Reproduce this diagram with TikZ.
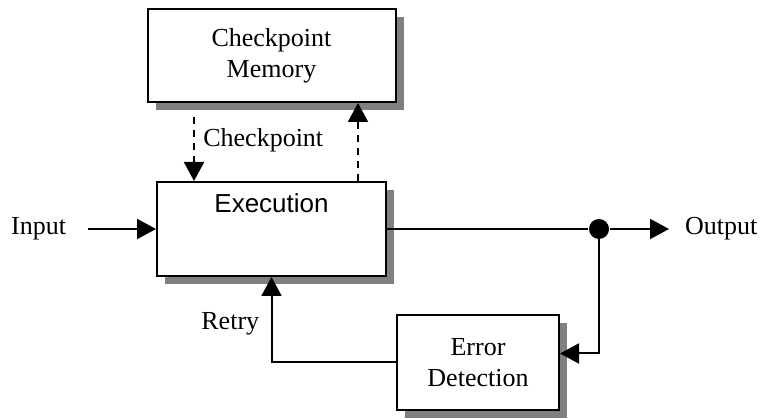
\documentclass[tikz,border=0pt]{standalone}
\usepackage{fontspec}
\setmainfont{Liberation Serif}
\newfontfamily\arialfont{Liberation Sans}
\usetikzlibrary{positioning}
\usetikzlibrary{arrows.meta}
\usetikzlibrary{shadows}

\begin{document}
\begin{tikzpicture}
	[every node/.append style={font=\fontsize{26}{31}\selectfont},
	align=center,
	line width=2pt,
	>={Triangle[length=19pt,width=20pt]},
	block/.style={draw, fill=white, drop shadow={shadow xshift=8pt, shadow yshift=-8pt, fill=black!50, opacity=1}},
	tag/.style={inner xsep=12pt},
	joint/.style={circle, fill, inner sep=0pt, minimum size=20pt},
	link/.style={dash pattern=on 7pt off 6pt}]
	
	\useasboundingbox (0,0) rectangle (760pt,-419pt);
	
	% nodes
	\node [block, minimum width=229pt, minimum height=94pt,
	       label={[anchor=north, yshift=-8pt, font=\arialfont\fontsize{26}{31}\selectfont]north:Execution}]
	       at (271.5pt,-229pt) (exec) {};
	\node [block, minimum width=248pt, minimum height=93pt, above=78pt of exec] (mem) {Checkpoint\\Memory};
	\node [block, minimum width=162pt, minimum height=95pt, below right=37pt and 9pt of exec] (err) {Error\\Detection};
	\node [joint, right=201pt of exec] (dot) {};
	\node [tag, right=62pt of dot] (out) {Output};
	\node [tag, left=77pt of exec] (in) {Input};
	
	% straight arrows
	\draw [->, shorten <=9pt] (in) -- (exec);
	\draw (exec) -- (dot);
	\draw [->, shorten >=3pt] (dot) -- (out);
	
	% checkpoint arrows
	\draw [->, link, shorten <=14pt] ([xshift=38pt]exec.north west |- mem.south) -- node[right, xshift=5pt, yshift=2pt] {Checkpoint} ([xshift=38pt]exec.north west);
	\draw [->, link] ([xshift=-29pt]exec.north east) -- ([xshift=-29pt]exec.north east |- mem.south);
	
	% feedback arrows
	\draw [->] (dot.center) |- ([yshift=9pt]err.east);
	\draw [->] (err.west) -| node[pos=0.75, left, xshift=-8pt, yshift=-4pt] {Retry} (exec.south);
\end{tikzpicture}
\end{document}
